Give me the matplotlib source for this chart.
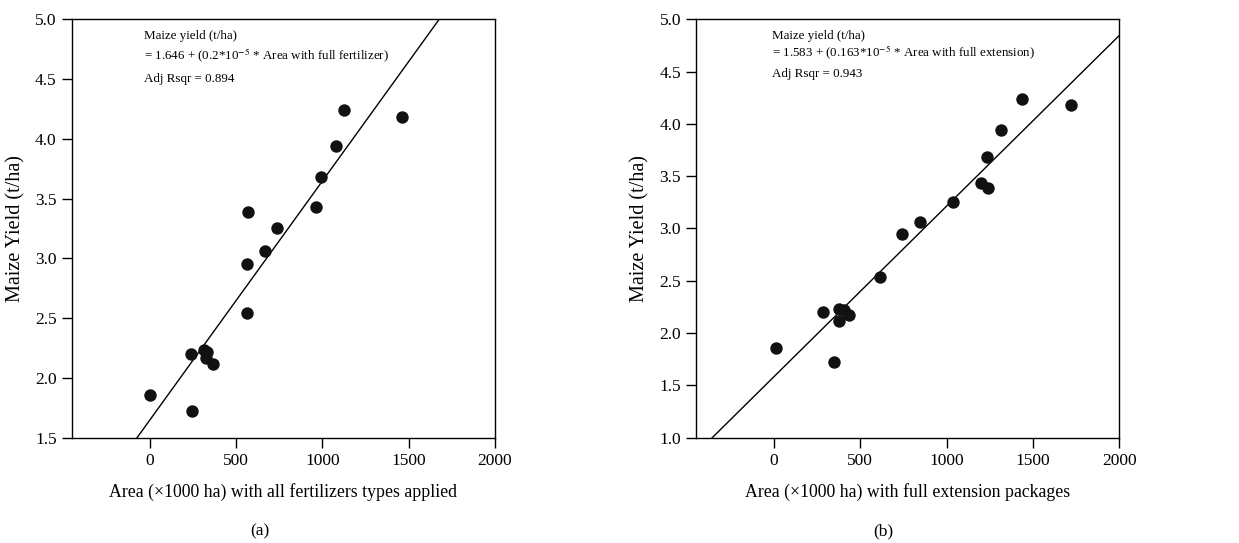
import matplotlib
matplotlib.use("Agg")
import matplotlib.pyplot as plt
import numpy as np

plt.rcParams['font.family'] = ['Liberation Serif', 'DejaVu Serif']
plt.rcParams['mathtext.fontset'] = 'stix'

# Panel (a): area with all fertilizer types applied (x1000 ha) vs maize yield (t/ha)
fert_area = [1126, 1464, 1077, 994, 963, 572, 738, 666, 566, 562, 239, 313, 330, 329, 367, 0, 243]
fert_yield = [4.24, 4.18, 3.94, 3.68, 3.43, 3.39, 3.25, 3.06, 2.95, 2.54, 2.20, 2.23, 2.22, 2.17, 2.12, 1.86, 1.72]
fert_intercept = 1.646
fert_slope = 0.2e-2

# Panel (b): area with full extension packages (x1000 ha) vs maize yield (t/ha)
ext_area = [1436, 1720, 1316, 1235, 1198, 1239, 1038, 846, 744, 616, 286, 377, 406, 437, 375, 12, 348]
ext_yield = [4.24, 4.18, 3.94, 3.68, 3.43, 3.39, 3.25, 3.06, 2.95, 2.54, 2.20, 2.23, 2.22, 2.17, 2.12, 1.86, 1.72]
ext_intercept = 1.583
ext_slope = 0.163e-2

x_ticks = [0, 500, 1000, 1500, 2000]
yticks_a = [1.5, 2.0, 2.5, 3.0, 3.5, 4.0, 4.5, 5.0]
yticks_b = [1.0, 1.5, 2.0, 2.5, 3.0, 3.5, 4.0, 4.5, 5.0]

fig = plt.figure(figsize=(12.39, 5.43), dpi=100)
ax1 = fig.add_axes([0.0581, 0.194, 0.3414, 0.7705])
ax2 = fig.add_axes([0.562, 0.194, 0.3412, 0.7705])

panels = [
    (ax1, fert_area, fert_yield, fert_intercept, fert_slope, yticks_a,
     "Area (\u00d71000 ha) with all fertilizers types applied",
     ["Maize yield (t/ha)",
      "= 1.646 + (0.2*10$^{-5}$ * Area with full fertilizer)",
      "Adj Rsqr = 0.894"], "(a)", 0.210, 0.170, 0.051),
    (ax2, ext_area, ext_yield, ext_intercept, ext_slope, yticks_b,
     "Area (\u00d71000 ha) with full extension packages",
     ["Maize yield (t/ha)",
      "= 1.583 + (0.163*10$^{-5}$ * Area with full extension)",
      "Adj Rsqr = 0.943"], "(b)", 0.713, 0.178, 0.045),
]

for ax, xs, ys, b0, b1, yt, xlabel, eq, sub, subx, textx, dy in panels:
    ax.scatter(xs, ys, s=80, color='#111111', zorder=3, linewidths=0)
    xlim = (-450, 2000)
    lx = np.array(xlim)
    ax.plot(lx, b0 + b1 * lx, color='black', linewidth=1.0, zorder=2)
    ax.set_xlim(*xlim)
    ax.set_ylim(yt[0], yt[-1])
    ax.set_xticks(x_ticks)
    ax.set_yticks(yt)
    ax.set_yticklabels([f"{v:.1f}" for v in yt])
    ax.tick_params(direction='out', length=7, width=1, labelsize=12.5, pad=4)
    for sp in ax.spines.values():
        sp.set_linewidth(1)
    ax.set_xlabel(xlabel, fontsize=12.8, labelpad=10)
    ax.set_ylabel("Maize Yield (t/ha)", fontsize=14.5, labelpad=7)
    y0 = 0.953
    for i, line in enumerate(eq):
        ax.text(textx, y0 - i * dy, line, transform=ax.transAxes,
                fontsize=9.4, va='baseline', ha='left')
    fig.text(subx, 0.006, sub, fontsize=12.5, ha='center', va='bottom')

fig.savefig("out.png", dpi=100)
